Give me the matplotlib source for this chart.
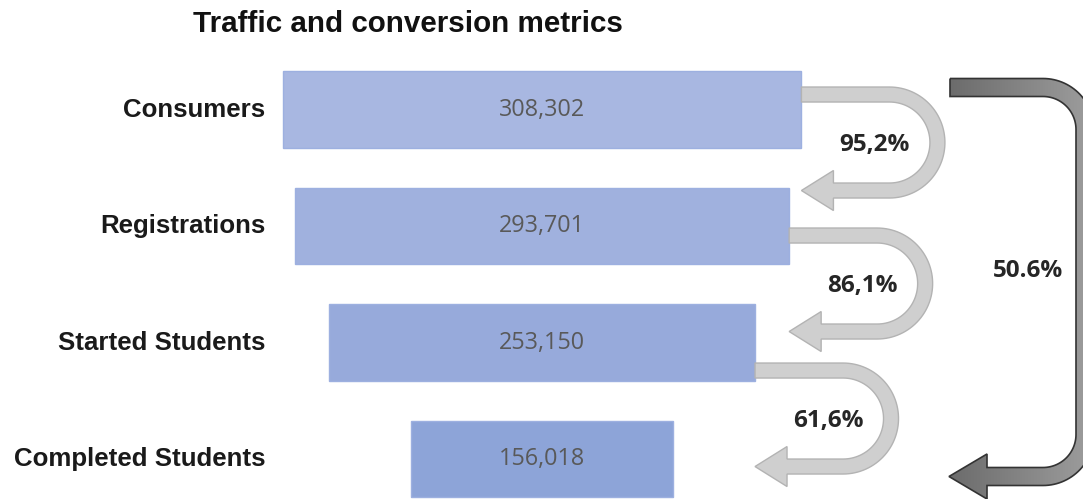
import numpy as np
import matplotlib
matplotlib.use("Agg")
import matplotlib.pyplot as plt
from matplotlib.path import Path
from matplotlib.patches import PathPatch
from matplotlib.transforms import blended_transform_factory

# ── Data ───────────────────────────────────────────────────────────────────────

stages = ["Consumers", "Registrations", "Started Students", "Completed Students"]
counts = np.array([308302, 293701, 253150, 156018])
step_rates = ["95,2%", "86,1%", "61,6%"]
overall_rate = "50.6%"
title = "Traffic and conversion metrics"

BAR_COLORS = ["#a8b7e1", "#a0b1de", "#97aadb", "#8da4d8"]
W, H = 1083, 499

fig = plt.figure(figsize=(W / 100, H / 100), dpi=100)
ax = fig.add_axes([0, 0, 1, 1])

ypos = np.arange(len(stages))
ax.barh(ypos, counts, left=-counts / 2, height=0.66, color=BAR_COLORS,
        edgecolor="#9db0e0", linewidth=1)

px_per_unit = 0.001683
ax.set_xlim(-542 / px_per_unit, (W - 542) / px_per_unit)
ax.set_ylim(3.343, -0.94)
ax.axis("off")

for y, c in zip(ypos, counts):
    ax.text(0, y, f"{c:,}", ha="center", va="center", fontsize=16.8,
            family="Open Sans", color="#595959")

lab_tr = blended_transform_factory(fig.transFigure, ax.transData)
for y, name in zip(ypos, stages):
    ax.text(265 / W, y, name, transform=lab_tr, ha="right", va="center",
            fontsize=18.6, fontweight="bold", family="Liberation Sans", color="#1a1a1a")

fig.text(193 / W, 1 - 24 / H, title, ha="left", va="center", fontsize=21.3,
         fontweight="bold", family="Liberation Sans", color="#111111")

# ── Arrows (overlay in pixel units) ───────────────────────────────────────────

ov = fig.add_axes([0, 0, 1, 1], facecolor="none")
ov.set_xlim(0, W)
ov.set_ylim(H, 0)
ov.axis("off")


def to_px(x, y):
    dx, dy = ax.transData.transform((x, y))
    return dx, H - dy


def u_arrow(x0, yt, r=48, w=15, reach=88, head_len=32, head_half=20):
    xc = x0 + reach
    yb = yt + 2 * r
    xh = x0 + head_len
    t = np.linspace(0, np.pi, 60)
    Ro, Ri = r + w / 2, r - w / 2
    pts = [(x0, yt - w / 2), (xc, yt - w / 2)]
    pts += list(zip(xc + Ro * np.sin(t), yt + r - Ro * np.cos(t)))
    pts += [(xh, yb + w / 2), (xh, yb + head_half), (x0, yb),
            (xh, yb - head_half), (xh, yb - w / 2)]
    pts += list(zip(xc + Ri * np.sin(t[::-1]), yt + r - Ri * np.cos(t[::-1])))
    pts += [(x0, yt + w / 2), (x0, yt - w / 2)]
    return np.array(pts), xc, yt + r


arrow_offsets = [-15, 9.5, 28]
for i, (rate, off) in enumerate(zip(step_rates, arrow_offsets)):
    x0, yc = to_px(counts[i] / 2, ypos[i])
    pts, xc, ym = u_arrow(x0, yc + off)
    ov.add_patch(PathPatch(Path(pts, closed=True), facecolor="#cfcfcf",
                           edgecolor="#b3b3b3", linewidth=1, zorder=2))
    ov.text(xc - 15, ym + 2, rate, ha="center", va="center", fontsize=17.5,
            fontweight="bold", family="Open Sans", color="#262626", zorder=3)

# Overall conversion arrow (dark, gradient)
xs, yt, xr, yb = 950, 87.5, 1085, 476.5
w, rc = 18, 42
tip_x, head_len, head_half = 949, 38, 22.5
a = np.linspace(0, np.pi / 2, 30)
Ro, Ri = rc + w / 2, rc - w / 2
cx1, cy1 = xr - rc, yt + rc
cx2, cy2 = xr - rc, yb - rc
outer = [(xs, yt - w / 2)]
outer += list(zip(cx1 + Ro * np.sin(a), cy1 - Ro * np.cos(a)))
outer += list(zip(cx2 + Ro * np.cos(a), cy2 + Ro * np.sin(a)))
outer += [(tip_x + head_len, yb + w / 2), (tip_x + head_len, yb + head_half),
          (tip_x, yb), (tip_x + head_len, yb - head_half),
          (tip_x + head_len, yb - w / 2)]
inner = list(zip(cx2 + Ri * np.cos(a[::-1]), cy2 + Ri * np.sin(a[::-1])))
inner += list(zip(cx1 + Ri * np.sin(a[::-1]), cy1 - Ri * np.cos(a[::-1])))
inner += [(xs, yt + w / 2), (xs, yt - w / 2)]
dark_path = Path(np.array(outer + inner), closed=True)

grad = np.linspace(0, 1, 256).reshape(1, -1)
cmap = matplotlib.colors.LinearSegmentedColormap.from_list("g", ["#6a6a6a", "#a0a0a0"])
img = ov.imshow(grad, cmap=cmap, extent=(945, 1100, 500, 60), aspect="auto", zorder=2)
dark_patch = PathPatch(dark_path, facecolor="none", edgecolor="#333333", linewidth=1.2, zorder=3)
ov.add_patch(dark_patch)
img.set_clip_path(dark_patch)
ov.set_xlim(0, W)
ov.set_ylim(H, 0)

ov.text(1028, 271, overall_rate, ha="center", va="center", fontsize=17.5,
        fontweight="bold", family="Open Sans", color="#262626")

fig.savefig("out.png", dpi=100)
